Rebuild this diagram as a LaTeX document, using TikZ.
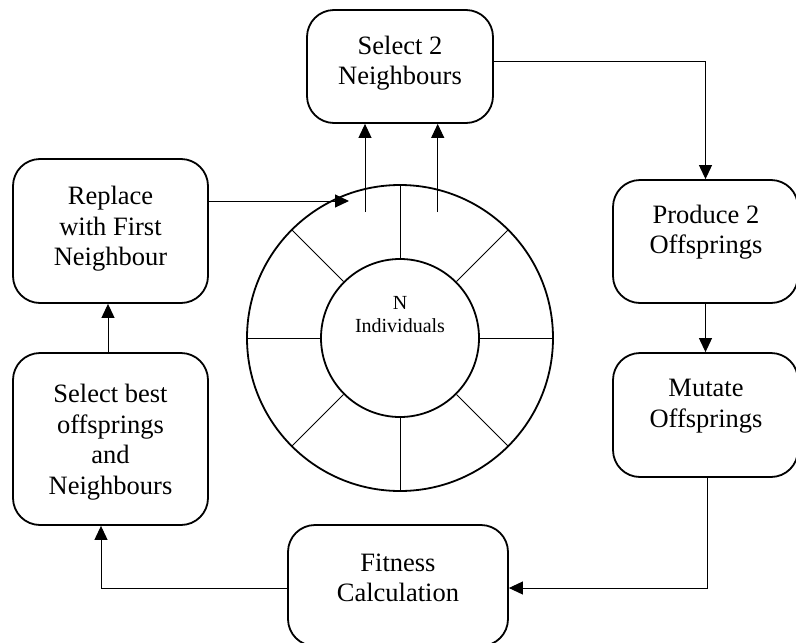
\documentclass[tikz,border=0pt]{standalone}
\usepackage{fontspec}
\setmainfont{Liberation Serif}
\usetikzlibrary{arrows.meta}
\begin{document}
\begin{tikzpicture}[x=1pt,y=-1pt,
  box/.style={draw, line width=1.8pt, rounded corners=27pt, inner sep=0pt},
  txt/.style={align=center, font=\fontsize{26.5}{30.5}\selectfont, inner sep=0pt},
  link/.style={line width=1pt},
  arr/.style={link, -{Triangle[length=14pt,width=13pt]}},
  ring/.style={draw, circle, line width=1.8pt, inner sep=0pt},
  spoke/.style={line width=1pt}]
\useasboundingbox (0,0) rectangle (796,643);

% process boxes
\node[box, minimum width=186pt, minimum height=113pt] (s2n)  at (400,66.5)  {};
\node[box, minimum width=195pt, minimum height=144pt] (repl) at (110.5,231) {};
\node[box, minimum width=195pt, minimum height=172pt] (best) at (110.5,439) {};
\node[box, minimum width=185pt, minimum height=123pt] (prod) at (705.5,241.5) {};
\node[box, minimum width=185pt, minimum height=124pt] (mut)  at (705.5,415) {};
\node[box, minimum width=220pt, minimum height=121pt] (fit)  at (398,585.5) {};

% box labels
\node[txt] (s2nT)  at (400,63)    {Select 2\\Neighbours};
\node[txt] (replT) at (110.5,229) {Replace\\with First\\Neighbour};
\node[txt] (bestT) at (110.5,442) {Select best\\offsprings\\and\\Neighbours};
\node[txt] (prodT) at (706,232)   {Produce 2\\Offsprings};
\node[txt] (mutT)  at (706,406)   {Mutate\\Offsprings};
\node[txt] (fitT)  at (398,578)   {Fitness\\Calculation};

% population ring
\node[ring, minimum size=306pt] (outer) at (400,338) {};
\node[ring, minimum size=158pt] (inner) at (400,338) {};
\foreach \a in {0,45,...,315}
  \draw[spoke] (inner.\a) -- (outer.\a);
\node[align=center, font=\fontsize{20}{23}\selectfont, inner sep=0pt] (pop) at (400,314.5) {N\\Individuals};

% connector end points
\coordinate (ringin) at (349,201);
\coordinate (pa) at (365,212);
\coordinate (pb) at (437.7,212);

% connectors
\draw[arr] ([yshift=5.5pt]s2n.east) -| (prod.north);
\draw[arr] (prod.south) -- (mut.north);
\draw[arr] ([xshift=1.5pt]mut.south) |- ([yshift=-2.5pt]fit.east);
\draw[arr] ([yshift=-2.5pt]fit.west) -| ([xshift=-9.5pt]best.south);
\draw[arr] ([xshift=-2.5pt]best.north) -- ([xshift=-2.5pt]repl.south);
\draw[arr] ([yshift=30pt]repl.east) -- (ringin);
\draw[arr] (pa) -- (pa |- s2n.south);
\draw[arr] (pb) -- (pb |- s2n.south);
\end{tikzpicture}
\end{document}
